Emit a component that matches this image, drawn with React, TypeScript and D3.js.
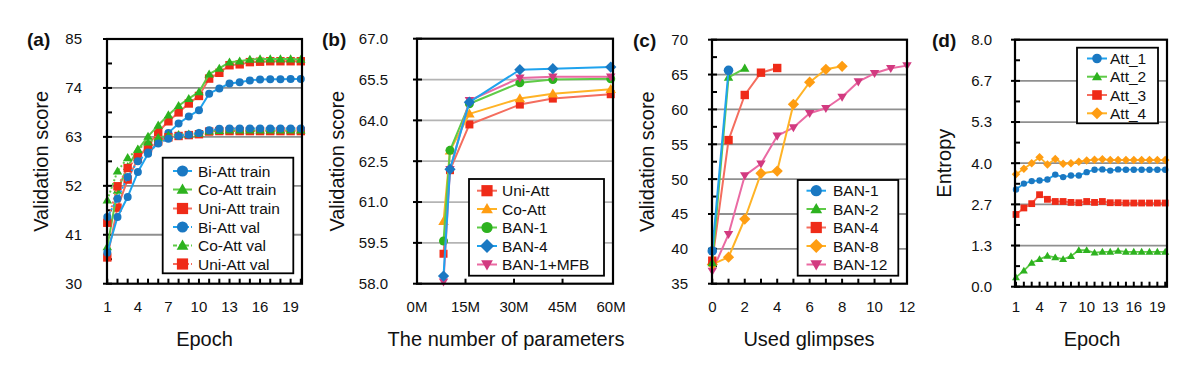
import React from "react";
import * as d3 from "d3";

// ---------- Panel (a): training curves ----------
const epochs = [1, 2, 3, 4, 5, 6, 7, 8, 9, 10, 11, 12, 13, 14, 15, 16, 17, 18, 19, 20];
const biAttTrain = [37.0, 45.0, 49.5, 55.1, 59.2, 61.8, 63.9, 66.0, 67.6, 69.0, 72.7, 73.9, 75.0, 75.3, 75.7, 75.9, 75.95, 75.95, 76.0, 76.0];
const coAttTrain = [38.3, 51.0, 56.3, 60.1, 63.1, 65.6, 67.9, 70.0, 71.6, 73.1, 77.1, 78.4, 79.8, 80.0, 80.4, 80.5, 80.5, 80.5, 80.5, 80.4];
const uniAttTrain = [35.9, 47.1, 53.4, 58.1, 61.1, 64.1, 66.5, 68.5, 70.5, 72.2, 76.1, 77.4, 79.1, 79.3, 79.8, 79.9, 80.0, 80.0, 80.0, 80.0];
const biAttVal = [45.0, 49.1, 54.0, 57.5, 59.5, 61.5, 62.6, 63.2, 63.5, 63.9, 64.5, 64.8, 64.9, 64.9, 64.9, 64.9, 64.9, 64.9, 64.9, 64.9];
const coAttVal = [48.8, 55.3, 58.3, 60.2, 61.8, 62.8, 63.3, 63.5, 63.6, 63.8, 64.3, 64.4, 64.5, 64.5, 64.5, 64.5, 64.5, 64.5, 64.5, 64.5];
const uniAttVal = [43.7, 51.9, 56.0, 58.5, 60.5, 62.0, 62.9, 63.2, 63.4, 63.6, 64.2, 64.3, 64.3, 64.3, 64.3, 64.3, 64.3, 64.3, 64.3, 64.3];
const aYTicks = [30, 41, 52, 63, 74, 85];
const aXLabels = [1, 4, 7, 10, 13, 16, 19];

// ---------- Panel (b): number of parameters ----------
const paramsM = [8.2, 10.2, 16.2, 31.8, 42.0, 59.9];
const bUniAtt = [59.1, 62.17, 63.85, 64.58, 64.8, 64.96];
const bCoAtt = [60.29, 62.88, 64.24, 64.8, 64.98, 65.14];
const bBan1 = [59.57, 62.9, 64.61, 65.38, 65.5, 65.53];
const bBan4 = [58.28, 62.2, 64.67, 65.86, 65.9, 65.96];
const bBan1Mfb = [58.07, 62.2, 64.73, 65.56, 65.6, 65.6];
const bYTicks = [58.0, 59.5, 61.0, 62.5, 64.0, 65.5, 67.0];
const bXLabels = [0, 15, 30, 45, 60];

// ---------- Panel (c): used glimpses ----------
const glimpses = [0, 1, 2, 3, 4, 5, 6, 7, 8, 9, 10, 11, 12];
const cBan1 = [39.7, 65.6];
const cBan2 = [38.0, 64.6, 65.9];
const cBan4 = [38.3, 55.6, 62.07, 65.27, 65.94];
const cBan8 = [37.77, 38.8, 44.28, 50.83, 51.16, 60.73, 63.9, 65.75, 66.18];
const cBan12 = [36.82, 42.08, 50.5, 52.2, 56.2, 57.4, 59.44, 60.16, 61.78, 63.98, 65.18, 65.9, 66.28];
const cYTicks = [35, 40, 45, 50, 55, 60, 65, 70];
const cXLabels = [0, 2, 4, 6, 8, 10, 12];

// ---------- Panel (d): attention entropy ----------
const att1 = [3.15, 3.34, 3.42, 3.44, 3.47, 3.63, 3.55, 3.6, 3.6, 3.71, 3.79, 3.8, 3.76, 3.8, 3.79, 3.79, 3.79, 3.79, 3.79, 3.79];
const att2 = [0.3, 0.52, 0.77, 0.89, 1.0, 0.95, 0.89, 0.99, 1.18, 1.18, 1.1, 1.13, 1.13, 1.16, 1.13, 1.13, 1.13, 1.13, 1.13, 1.13];
const att3 = [2.34, 2.55, 2.69, 2.98, 2.83, 2.76, 2.76, 2.73, 2.72, 2.76, 2.73, 2.76, 2.72, 2.72, 2.71, 2.71, 2.71, 2.71, 2.71, 2.71];
const att4 = [3.64, 3.82, 4.0, 4.19, 3.96, 4.14, 3.98, 4.0, 4.05, 4.09, 4.11, 4.13, 4.1, 4.1, 4.1, 4.1, 4.1, 4.1, 4.1, 4.1];
const dYTicks = [0, 4 / 3, 8 / 3, 4, 16 / 3, 20 / 3, 8];
const dXLabels = [1, 4, 7, 10, 13, 16, 19];

// ---------- colours ----------
const C = {
  blueM: "#1a78c2", blueL: "#1fa3ee",
  greenM: "#2db21f", greenL: "#5fcb47",
  redM: "#ef2b18", redL: "#f46d5e",
  orangeM: "#ff9d12", orangeL: "#ffb326",
  pinkM: "#d23a80", pinkL: "#ea6aa3",
};

const FONT = "'Liberation Sans', Arial, Helvetica, sans-serif";

type Shape = "circle" | "triangle" | "square" | "diamond" | "tridown";

function Marker({ shape, x, y, r, fill }: { shape: Shape; x: number; y: number; r: number; fill: string }) {
  if (shape === "circle") return <circle cx={x} cy={y} r={r} fill={fill} />;
  if (shape === "square") return <rect x={x - r} y={y - r} width={2 * r} height={2 * r} fill={fill} />;
  const p = d3.path();
  if (shape === "triangle") {
    p.moveTo(x, y - r * 1.05); p.lineTo(x + r * 1.05, y + r * 0.75); p.lineTo(x - r * 1.05, y + r * 0.75); p.closePath();
  } else if (shape === "tridown") {
    p.moveTo(x, y + r * 1.05); p.lineTo(x + r * 1.05, y - r * 0.75); p.lineTo(x - r * 1.05, y - r * 0.75); p.closePath();
  } else {
    const q = r * 1.25;
    p.moveTo(x, y - q); p.lineTo(x + q, y); p.lineTo(x, y + q); p.lineTo(x - q, y); p.closePath();
  }
  return <path d={p.toString()} fill={fill} />;
}

type Series = { name: string; xs: number[]; ys: number[]; shape: Shape; mc: string; lc: string; dash?: string; r: number; lw: number };

type PanelCfg = {
  id: string;
  box: [number, number, number, number];
  xDomain: [number, number];
  xRange: [number, number];
  yDomain: [number, number];
  yTicks: number[];
  yFmt: (v: number) => string;
  yMinor: number[];
  gridColor: string;
  xTickMarks: number[];
  xLabels: number[];
  xFmt: (v: number) => string;
  xTitle: string;
  xTitleX: number;
  yTitle: string;
  yTitleX: number;
  yLabelRight: number;
  titleX: number;
  series: Series[];
  drawOrder: number[];
  legend: { x0: number; y0: number; x1: number; y1: number; rows: number[]; lx0: number; lx1: number; tx: number; legR?: number };
};

function Panel({ cfg }: { cfg: PanelCfg }) {
  const [bx0, bx1, by0, by1] = cfg.box;
  const x = d3.scaleLinear().domain(cfg.xDomain).range(cfg.xRange);
  const y = d3.scaleLinear().domain(cfg.yDomain).range([by1, by0]);
  const line = d3.line<[number, number]>().x((d) => x(d[0])).y((d) => y(d[1]));
  const lg = cfg.legend;
  return (
    <g>
      <text x={cfg.titleX} y={by0 + 7} fontSize={19} fontWeight="bold" fill="#111" fontFamily={FONT}>({cfg.id})</text>
      {cfg.yTicks.slice(1, -1).map((t, i) => (
        <line key={"g" + i} x1={bx0} x2={bx1} y1={y(t)} y2={y(t)} stroke={cfg.gridColor} strokeWidth={1.8} />
      ))}
      {cfg.yTicks.map((t, i) => (
        <g key={"yt" + i}>
          <line x1={bx0 - 4} x2={bx0 + 5} y1={y(t)} y2={y(t)} stroke="#000" strokeWidth={2} />
          <text x={cfg.yLabelRight} y={y(t)} dy="0.36em" textAnchor="end" fontSize={15} fill="#111" fontFamily={FONT}>{cfg.yFmt(t)}</text>
        </g>
      ))}
      {cfg.yMinor.map((t, i) => (
        <line key={"ym" + i} x1={bx0} x2={bx0 + 5} y1={y(t)} y2={y(t)} stroke="#000" strokeWidth={2} />
      ))}
      {cfg.xTickMarks.map((t, i) => (
        <line key={"xt" + i} x1={x(t)} x2={x(t)} y1={by1} y2={by1 - 5} stroke="#000" strokeWidth={2} />
      ))}
      {cfg.xLabels.map((t, i) => (
        <text key={"xl" + i} x={x(t)} y={312} textAnchor="middle" fontSize={15} fill="#111" fontFamily={FONT}>{cfg.xFmt(t)}</text>
      ))}
      {cfg.drawOrder.map((si) => {
        const s = cfg.series[si];
        const pts: [number, number][] = s.ys.map((v, i) => [s.xs[i], v]);
        return (
          <g key={"s" + si}>
            <path d={line(pts) || ""} fill="none" stroke={s.lc} strokeWidth={s.lw} strokeDasharray={s.dash} strokeLinejoin="round" />
            {pts.map((p, i) => (
              <Marker key={i} shape={s.shape} x={x(p[0])} y={y(p[1])} r={s.r} fill={s.mc} />
            ))}
          </g>
        );
      })}
      <rect x={bx0} y={by0} width={bx1 - bx0} height={by1 - by0} fill="none" stroke="#000" strokeWidth={2.2} />
      <rect x={lg.x0} y={lg.y0} width={lg.x1 - lg.x0} height={lg.y1 - lg.y0} fill="#fff" stroke="#000" strokeWidth={1.8} />
      {cfg.series.map((s, i) => (
        <g key={"lg" + i}>
          <line x1={lg.lx0} x2={lg.lx1} y1={lg.rows[i]} y2={lg.rows[i]} stroke={s.lc} strokeWidth={2} strokeDasharray={s.dash ? "4,2" : undefined} />
          <Marker shape={s.shape} x={(lg.lx0 + lg.lx1) / 2} y={lg.rows[i]} r={lg.legR ?? s.r + 1} fill={s.mc} />
          <text x={lg.tx} y={lg.rows[i]} dy="0.36em" fontSize={15.5} fill="#111" fontFamily={FONT}>{s.name}</text>
        </g>
      ))}
      <text x={cfg.xTitleX} y={346} textAnchor="middle" fontSize={20} fill="#111" fontFamily={FONT}>{cfg.xTitle}</text>
      <text transform={`translate(${cfg.yTitleX},${(by0 + by1) / 2}) rotate(-90)`} textAnchor="middle" dy="0.35em" fontSize={20} fill="#111" fontFamily={FONT}>{cfg.yTitle}</text>
    </g>
  );
}

const fmtInt = (v: number) => String(v);
const halfMinor = (ticks: number[]) => ticks.slice(0, -1).map((t, i) => (t + ticks[i + 1]) / 2);

const panelA: PanelCfg = {
  id: "a",
  box: [107, 302, 39, 283.7],
  xDomain: [1, 20], xRange: [107.3, 300.8],
  yDomain: [30, 85], yTicks: aYTicks, yFmt: fmtInt, yMinor: halfMinor(aYTicks),
  gridColor: "#8f8f8f",
  xTickMarks: epochs, xLabels: aXLabels, xFmt: fmtInt,
  xTitle: "Epoch", xTitleX: 204.5, yTitle: "Validation score", yTitleX: 41, yLabelRight: 82, titleX: 27,
  series: [
    { name: "Bi-Att train", xs: epochs, ys: biAttTrain, shape: "circle", mc: C.blueM, lc: C.blueL, r: 4, lw: 2 },
    { name: "Co-Att train", xs: epochs, ys: coAttTrain, shape: "triangle", mc: C.greenM, lc: C.greenL, r: 4.5, lw: 2 },
    { name: "Uni-Att train", xs: epochs, ys: uniAttTrain, shape: "square", mc: C.redM, lc: C.redL, r: 4.2, lw: 2 },
    { name: "Bi-Att val", xs: epochs, ys: biAttVal, shape: "circle", mc: C.blueM, lc: C.blueL, r: 4, lw: 2, dash: "2,2" },
    { name: "Co-Att val", xs: epochs, ys: coAttVal, shape: "triangle", mc: C.greenM, lc: C.greenL, r: 4.5, lw: 2, dash: "2,2" },
    { name: "Uni-Att val", xs: epochs, ys: uniAttVal, shape: "square", mc: C.redM, lc: C.redL, r: 4.2, lw: 2, dash: "2,2" },
  ],
  drawOrder: [2, 1, 0, 5, 4, 3],
  legend: { x0: 162.7, y0: 157.7, x1: 293.3, y1: 273.3, rows: [171, 189.5, 208.5, 227, 245.5, 264], lx0: 173, lx1: 192, tx: 198, legR: 5.6 },
};

const panelB: PanelCfg = {
  id: "b",
  box: [417, 613, 38.7, 283.7],
  xDomain: [0, 60.6], xRange: [417, 613],
  yDomain: [58, 67], yTicks: bYTicks, yFmt: (v) => v.toFixed(1), yMinor: [],
  gridColor: "#b4b4b4",
  xTickMarks: [15, 30, 45], xLabels: bXLabels, xFmt: (v) => v + "M",
  xTitle: "The number of parameters", xTitleX: 506, yTitle: "Validation score", yTitleX: 337, yLabelRight: 388, titleX: 322,
  series: [
    { name: "Uni-Att", xs: paramsM, ys: bUniAtt, shape: "square", mc: C.redM, lc: C.redL, r: 4, lw: 2 },
    { name: "Co-Att", xs: paramsM, ys: bCoAtt, shape: "triangle", mc: C.orangeM, lc: C.orangeL, r: 5, lw: 2 },
    { name: "BAN-1", xs: paramsM, ys: bBan1, shape: "circle", mc: C.greenM, lc: C.greenL, r: 4.5, lw: 2 },
    { name: "BAN-4", xs: paramsM, ys: bBan4, shape: "diamond", mc: C.blueM, lc: C.blueL, r: 4.5, lw: 2 },
    { name: "BAN-1+MFB", xs: paramsM, ys: bBan1Mfb, shape: "tridown", mc: C.pinkM, lc: C.pinkL, r: 4.5, lw: 2 },
  ],
  drawOrder: [0, 1, 2, 4, 3],
  legend: { x0: 469, y0: 179, x1: 604, y1: 275.7, rows: [190.7, 209, 227.5, 246, 264.5], lx0: 477, lx1: 497, tx: 502, legR: 5.6 },
};

const panelC: PanelCfg = {
  id: "c",
  box: [712, 907, 39.7, 283.7],
  xDomain: [0, 12], xRange: [712.3, 907],
  yDomain: [35, 70], yTicks: cYTicks, yFmt: fmtInt, yMinor: halfMinor(cYTicks),
  gridColor: "#8f8f8f",
  xTickMarks: glimpses, xLabels: cXLabels, xFmt: fmtInt,
  xTitle: "Used glimpses", xTitleX: 809, yTitle: "Validation score", yTitleX: 647, yLabelRight: 688, titleX: 633,
  series: [
    { name: "BAN-1", xs: glimpses, ys: cBan1, shape: "circle", mc: C.blueM, lc: C.blueL, r: 4.8, lw: 2 },
    { name: "BAN-2", xs: glimpses, ys: cBan2, shape: "triangle", mc: C.greenM, lc: C.greenL, r: 4.5, lw: 2 },
    { name: "BAN-4", xs: glimpses, ys: cBan4, shape: "square", mc: C.redM, lc: C.redL, r: 4.2, lw: 2 },
    { name: "BAN-8", xs: glimpses, ys: cBan8, shape: "diamond", mc: C.orangeM, lc: C.orangeL, r: 4.5, lw: 2 },
    { name: "BAN-12", xs: glimpses, ys: cBan12, shape: "tridown", mc: C.pinkM, lc: C.pinkL, r: 4.5, lw: 2 },
  ],
  drawOrder: [4, 3, 2, 1, 0],
  legend: { x0: 797.7, y0: 180, x1: 898.3, y1: 275.7, rows: [190.7, 209, 227.5, 246, 264.5], lx0: 806.5, lx1: 826, tx: 833, legR: 5.6 },
};

const panelD: PanelCfg = {
  id: "d",
  box: [1015, 1167, 39.7, 286.7],
  xDomain: [1, 20], xRange: [1016, 1165.2],
  yDomain: [0, 8], yTicks: dYTicks, yFmt: (v) => v.toFixed(1), yMinor: halfMinor(dYTicks),
  gridColor: "#8f8f8f",
  xTickMarks: epochs, xLabels: dXLabels, xFmt: fmtInt,
  xTitle: "Epoch", xTitleX: 1092, yTitle: "Entropy", yTitleX: 944, yLabelRight: 992, titleX: 932,
  series: [
    { name: "Att_1", xs: epochs, ys: att1, shape: "circle", mc: C.blueM, lc: C.blueL, r: 3.2, lw: 1.8 },
    { name: "Att_2", xs: epochs, ys: att2, shape: "triangle", mc: C.greenM, lc: C.greenL, r: 3.8, lw: 1.8 },
    { name: "Att_3", xs: epochs, ys: att3, shape: "square", mc: C.redM, lc: C.redL, r: 3.4, lw: 1.8 },
    { name: "Att_4", xs: epochs, ys: att4, shape: "diamond", mc: C.orangeM, lc: C.orangeL, r: 3.4, lw: 1.8 },
  ],
  drawOrder: [0, 1, 2, 3],
  legend: { x0: 1077, y0: 47.7, x1: 1158, y1: 123.3, rows: [58.5, 76.7, 95, 113.3], lx0: 1087, lx1: 1107, tx: 1110, legR: 4.8 },
};

export default function App() {
  return (
    <svg width={1198} height={384} style={{ position: "absolute", left: 0, top: 0, background: "#fff" }}>
      <rect width={1198} height={384} fill="#fff" />
      <Panel cfg={panelA} />
      <Panel cfg={panelB} />
      <Panel cfg={panelC} />
      <Panel cfg={panelD} />
    </svg>
  );
}
